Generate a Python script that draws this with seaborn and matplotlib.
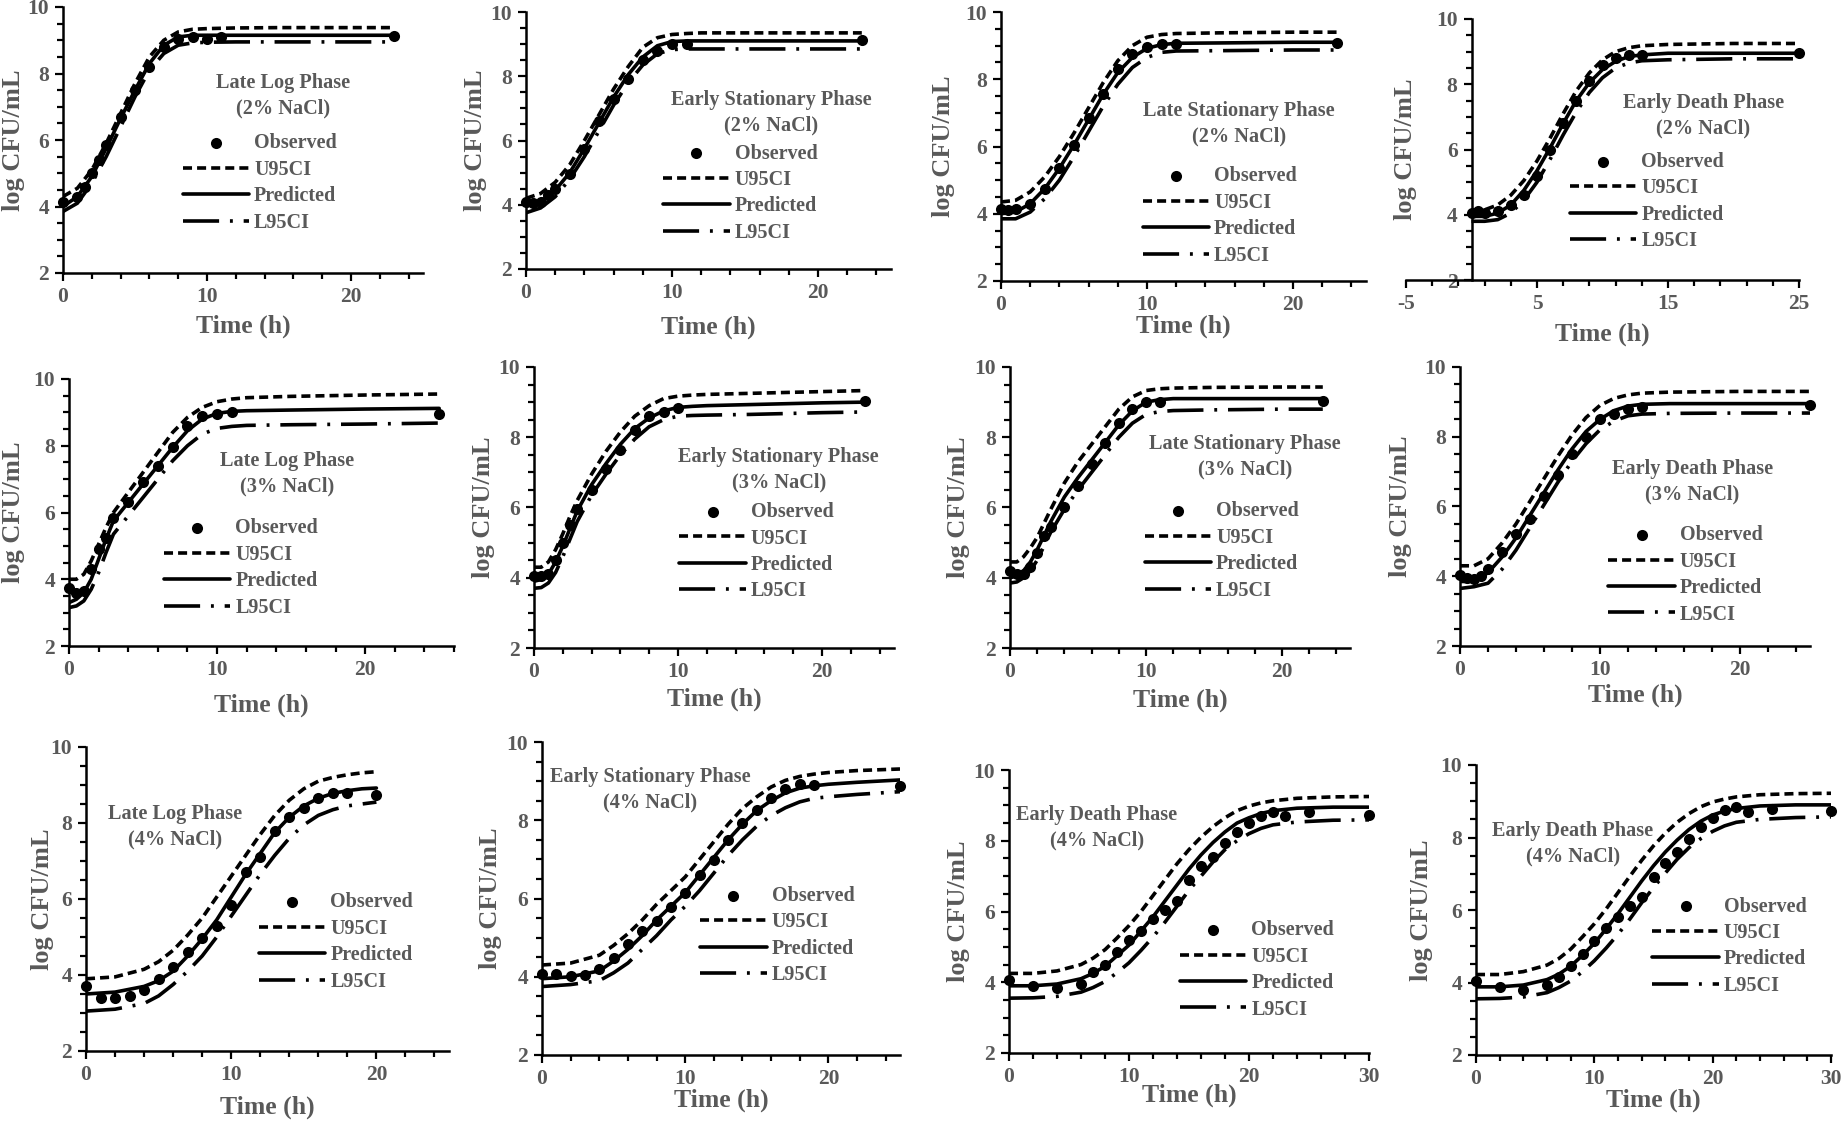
import numpy as np
import pandas as pd
import matplotlib.pyplot as plt
from matplotlib.ticker import MultipleLocator, FixedLocator
import seaborn as sns

sns.set_theme(style="ticks")
plt.rcParams['font.family'] = ['Liberation Serif', 'DejaVu Serif']
plt.rcParams['font.weight'] = 'bold'
plt.rcParams['axes.labelweight'] = 'bold'
plt.rcParams['axes.unicode_minus'] = False

GREY = '#595959'

# ---------------- data ----------------
titles = ['Late Log Phase\n(2% NaCl)', 'Early Stationary Phase\n(2% NaCl)',
          'Late Stationary Phase\n(2% NaCl)', 'Early Death Phase\n(2% NaCl)',
          'Late Log Phase\n(3% NaCl)', 'Early Stationary Phase\n(3% NaCl)',
          'Late Stationary Phase\n(3% NaCl)', 'Early Death Phase\n(3% NaCl)',
          'Late Log Phase\n(4% NaCl)', 'Early Stationary Phase\n(4% NaCl)',
          'Early Death Phase\n(4% NaCl)', 'Early Death Phase\n(4% NaCl)']

# panel 1
p1_obs_t = [0, 1, 1.5, 2, 2.5, 3, 4, 5, 6, 7, 8, 9, 10, 11, 23]
p1_obs = [4.15, 4.3, 4.6, 5.0, 5.4, 5.85, 6.7, 7.5, 8.2, 8.8, 9.05, 9.1, 9.05, 9.1, 9.12]
p1_t = [0, 1, 2, 3, 4, 5, 6, 7, 8, 9, 10, 12, 15, 20, 23]
p1_pred = [4.0, 4.3, 4.9, 5.75, 6.65, 7.5, 8.3, 8.85, 9.1, 9.15, 9.15, 9.15, 9.15, 9.15, 9.15]
p1_u95 = [4.3, 4.55, 5.1, 5.9, 6.8, 7.7, 8.5, 9.0, 9.25, 9.33, 9.35, 9.37, 9.38, 9.38, 9.38]
p1_l95 = [3.85, 4.1, 4.7, 5.5, 6.4, 7.3, 8.1, 8.6, 8.85, 8.92, 8.94, 8.95, 8.95, 8.95, 8.95]

# panel 2
p2_obs_t = [0, 0.5, 1, 1.5, 2, 3, 4, 5, 6, 7, 8, 9, 10, 11, 23]
p2_obs = [4.1, 4.05, 4.1, 4.3, 4.5, 4.95, 5.75, 6.6, 7.3, 7.9, 8.5, 8.8, 9.0, 9.0, 9.12]
p2_t = [0, 1, 2, 3, 4, 5, 6, 7, 8, 9, 10, 11, 12, 15, 20, 23]
p2_pred = [3.95, 4.1, 4.45, 5.0, 5.75, 6.55, 7.35, 8.05, 8.6, 8.95, 9.08, 9.1, 9.1, 9.1, 9.1, 9.1]
p2_u95 = [4.2, 4.35, 4.7, 5.25, 6.0, 6.8, 7.6, 8.3, 8.9, 9.2, 9.3, 9.33, 9.35, 9.35, 9.35, 9.35]
p2_l95 = [3.75, 3.9, 4.25, 4.8, 5.5, 6.3, 7.1, 7.8, 8.35, 8.7, 8.83, 8.85, 8.85, 8.85, 8.85, 8.85]

# panel 3
p3_obs_t = [0, 0.5, 1, 2, 3, 4, 5, 6, 7, 8, 9, 10, 11, 12, 23]
p3_obs = [4.15, 4.1, 4.15, 4.3, 4.75, 5.35, 6.05, 6.85, 7.55, 8.3, 8.75, 8.95, 9.05, 9.05, 9.08]
p3_t = [0, 1, 2, 3, 4, 5, 6, 7, 8, 9, 10, 11, 12, 15, 20, 23]
p3_pred = [4.0, 4.05, 4.3, 4.75, 5.35, 6.05, 6.8, 7.55, 8.2, 8.65, 8.92, 9.03, 9.07, 9.08, 9.1, 9.1]
p3_u95 = [4.35, 4.4, 4.65, 5.1, 5.7, 6.4, 7.15, 7.9, 8.55, 9.0, 9.25, 9.33, 9.36, 9.38, 9.4, 9.4]
p3_l95 = [3.85, 3.85, 4.05, 4.45, 5.0, 5.7, 6.45, 7.2, 7.85, 8.35, 8.65, 8.8, 8.84, 8.85, 8.87, 8.87]

# panel 4
p4_obs_t = [0, 0.5, 1, 2, 3, 4, 5, 6, 7, 8, 9, 10, 11, 12, 13, 25]
p4_obs = [4.05, 4.1, 4.05, 4.1, 4.3, 4.6, 5.2, 6.0, 6.8, 7.5, 8.1, 8.6, 8.8, 8.9, 8.9, 8.95]
p4_t = [0, 1, 2, 3, 4, 5, 6, 7, 8, 9, 10, 11, 12, 13, 15, 20, 25]
p4_pred = [3.95, 3.95, 4.05, 4.3, 4.75, 5.35, 6.05, 6.8, 7.5, 8.05, 8.45, 8.7, 8.85, 8.9, 8.95, 8.95, 8.95]
p4_u95 = [4.15, 4.15, 4.3, 4.6, 5.05, 5.65, 6.35, 7.1, 7.8, 8.35, 8.75, 9.0, 9.12, 9.18, 9.22, 9.25, 9.25]
p4_l95 = [3.8, 3.8, 3.85, 4.05, 4.45, 5.0, 5.7, 6.45, 7.15, 7.75, 8.2, 8.5, 8.65, 8.72, 8.75, 8.78, 8.78]

# panel 5
p5_obs_t = [0, 0.5, 1, 1.5, 2, 2.5, 3, 4, 5, 6, 7, 8, 9, 10, 11, 25]
p5_obs = [3.75, 3.6, 3.65, 4.3, 4.9, 5.25, 5.85, 6.3, 6.9, 7.4, 7.95, 8.6, 8.88, 8.95, 9.0, 8.95]
p5_t = [0, 0.5, 1, 1.5, 2, 2.5, 3, 4, 5, 6, 7, 8, 9, 10, 11, 12, 15, 20, 25]
p5_pred = [3.3, 3.4, 3.6, 4.0, 4.6, 5.2, 5.75, 6.3, 6.85, 7.4, 7.95, 8.45, 8.8, 8.97, 9.03, 9.05, 9.07, 9.1, 9.12]
p5_u95 = [4.0, 4.0, 4.15, 4.55, 5.05, 5.55, 6.0, 6.6, 7.2, 7.8, 8.4, 8.85, 9.15, 9.32, 9.4, 9.44, 9.48, 9.52, 9.55]
p5_l95 = [3.15, 3.2, 3.35, 3.7, 4.2, 4.8, 5.35, 5.9, 6.45, 7.0, 7.55, 8.0, 8.35, 8.52, 8.58, 8.61, 8.63, 8.65, 8.68]

# panel 6
p6_obs_t = [0, 0.5, 1, 1.5, 2, 2.5, 3, 4, 5, 6, 7, 8, 9, 10, 23]
p6_obs = [4.05, 4.05, 4.1, 4.5, 5.0, 5.5, 5.95, 6.5, 7.1, 7.65, 8.2, 8.6, 8.72, 8.83, 9.03]
p6_t = [0, 0.5, 1, 1.5, 2, 2.5, 3, 4, 5, 6, 7, 8, 9, 10, 11, 12, 15, 20, 23]
p6_pred = [3.9, 3.95, 4.1, 4.45, 4.9, 5.4, 5.9, 6.65, 7.25, 7.8, 8.25, 8.55, 8.75, 8.85, 8.88, 8.9, 8.93, 8.98, 9.0]
p6_u95 = [4.3, 4.3, 4.45, 4.8, 5.25, 5.75, 6.2, 6.95, 7.6, 8.15, 8.6, 8.9, 9.1, 9.17, 9.2, 9.22, 9.25, 9.3, 9.33]
p6_l95 = [3.7, 3.72, 3.85, 4.15, 4.6, 5.1, 5.6, 6.35, 6.95, 7.5, 7.95, 8.3, 8.5, 8.6, 8.62, 8.63, 8.65, 8.7, 8.72]

# panel 7
p7_obs_t = [0, 0.5, 1, 1.5, 2, 2.5, 3, 4, 5, 6, 7, 8, 9, 10, 11, 23]
p7_obs = [4.2, 4.1, 4.1, 4.3, 4.7, 5.2, 5.45, 6.0, 6.6, 7.25, 7.85, 8.4, 8.8, 9.0, 9.0, 9.02]
p7_t = [0, 0.5, 1, 1.5, 2, 2.5, 3, 4, 5, 6, 7, 8, 9, 10, 11, 12, 15, 20, 23]
p7_pred = [4.0, 4.05, 4.2, 4.45, 4.8, 5.2, 5.6, 6.3, 6.85, 7.35, 7.85, 8.35, 8.75, 9.0, 9.07, 9.1, 9.1, 9.1, 9.1]
p7_u95 = [4.45, 4.45, 4.6, 4.85, 5.15, 5.55, 5.95, 6.7, 7.3, 7.8, 8.3, 8.8, 9.15, 9.33, 9.38, 9.4, 9.42, 9.43, 9.43]
p7_l95 = [3.85, 3.88, 4.0, 4.2, 4.5, 4.9, 5.3, 5.95, 6.5, 7.0, 7.5, 8.0, 8.4, 8.65, 8.73, 8.76, 8.78, 8.8, 8.8]

# panel 8
p8_obs_t = [0, 0.5, 1, 1.5, 2, 3, 4, 5, 6, 7, 8, 9, 10, 11, 12, 13, 25]
p8_obs = [4.05, 3.95, 3.93, 4.0, 4.2, 4.7, 5.2, 5.65, 6.3, 6.9, 7.5, 8.0, 8.5, 8.65, 8.8, 8.85, 8.9]
p8_t = [0, 1, 2, 3, 4, 5, 6, 7, 8, 9, 10, 11, 12, 13, 15, 20, 25]
p8_pred = [3.85, 3.85, 4.1, 4.55, 5.1, 5.75, 6.4, 7.05, 7.65, 8.15, 8.5, 8.75, 8.88, 8.93, 8.95, 8.95, 8.95]
p8_u95 = [4.3, 4.3, 4.5, 4.95, 5.5, 6.15, 6.8, 7.45, 8.05, 8.55, 8.9, 9.1, 9.2, 9.25, 9.28, 9.3, 9.3]
p8_l95 = [3.65, 3.7, 3.8, 4.2, 4.75, 5.4, 6.05, 6.7, 7.3, 7.8, 8.2, 8.45, 8.6, 8.65, 8.67, 8.68, 8.68]

# panel 9
p9_obs_t = [0, 1, 2, 3, 4, 5, 6, 7, 8, 9, 10, 11, 12, 13, 14, 15, 16, 17, 18, 20]
p9_obs = [3.7, 3.4, 3.4, 3.45, 3.6, 3.9, 4.2, 4.6, 4.97, 5.3, 5.85, 6.7, 7.1, 7.8, 8.15, 8.4, 8.65, 8.78, 8.8, 8.75]
p9_t = [0, 2, 4, 5, 6, 7, 8, 9, 10, 11, 12, 13, 14, 15, 16, 17, 18, 19, 20]
p9_pred = [3.5, 3.55, 3.7, 3.85, 4.1, 4.5, 4.95, 5.45, 6.05, 6.65, 7.2, 7.75, 8.15, 8.45, 8.65, 8.78, 8.85, 8.9, 8.92]
p9_u95 = [3.9, 3.95, 4.15, 4.35, 4.65, 5.05, 5.5, 6.05, 6.6, 7.15, 7.7, 8.2, 8.6, 8.9, 9.1, 9.2, 9.27, 9.32, 9.35]
p9_l95 = [3.05, 3.1, 3.25, 3.45, 3.75, 4.1, 4.5, 5.0, 5.55, 6.1, 6.65, 7.15, 7.6, 7.95, 8.2, 8.35, 8.45, 8.5, 8.55]

# panel 10
p10_obs_t = [0, 1, 2, 3, 4, 5, 6, 7, 8, 9, 10, 11, 12, 13, 14, 15, 16, 17, 18, 19, 25]
p10_obs = [4.07, 4.07, 4.02, 4.05, 4.2, 4.48, 4.84, 5.16, 5.43, 5.78, 6.15, 6.6, 6.98, 7.5, 7.93, 8.27, 8.57, 8.79, 8.92, 8.9, 8.87]
p10_t = [0, 2, 4, 5, 6, 7, 8, 9, 10, 11, 12, 13, 14, 15, 16, 17, 18, 19, 20, 22, 25]
p10_pred = [3.95, 4.0, 4.15, 4.4, 4.7, 5.05, 5.45, 5.8, 6.15, 6.6, 7.05, 7.5, 7.9, 8.25, 8.5, 8.7, 8.82, 8.88, 8.92, 8.97, 9.03]
p10_u95 = [4.3, 4.35, 4.55, 4.8, 5.1, 5.45, 5.85, 6.2, 6.55, 7.0, 7.45, 7.9, 8.3, 8.6, 8.85, 9.02, 9.12, 9.18, 9.22, 9.27, 9.31]
p10_l95 = [3.75, 3.8, 3.9, 4.1, 4.35, 4.7, 5.05, 5.45, 5.8, 6.2, 6.65, 7.1, 7.5, 7.85, 8.12, 8.32, 8.47, 8.56, 8.6, 8.66, 8.73]

# panel 11
p11_obs_t = [0, 2, 4, 6, 7, 8, 9, 10, 11, 12, 13, 14, 15, 16, 17, 18, 19, 20, 21, 22, 23, 25, 30]
p11_obs = [4.05, 3.88, 3.83, 3.95, 4.3, 4.5, 4.85, 5.2, 5.45, 5.8, 6.05, 6.3, 6.9, 7.3, 7.55, 7.95, 8.25, 8.5, 8.7, 8.8, 8.7, 8.8, 8.72]
p11_t = [0, 2, 4, 6, 7, 8, 9, 10, 11, 12, 13, 14, 15, 16, 17, 18, 19, 20, 21, 22, 24, 27, 30]
p11_pred = [3.9, 3.9, 3.95, 4.1, 4.25, 4.45, 4.75, 5.05, 5.45, 5.85, 6.3, 6.75, 7.2, 7.6, 7.95, 8.25, 8.5, 8.65, 8.77, 8.85, 8.92, 8.95, 8.95]
p11_u95 = [4.25, 4.25, 4.32, 4.5, 4.68, 4.92, 5.25, 5.6, 6.0, 6.45, 6.9, 7.35, 7.75, 8.1, 8.4, 8.65, 8.85, 8.98, 9.07, 9.13, 9.2, 9.24, 9.25]
p11_l95 = [3.55, 3.56, 3.6, 3.72, 3.85, 4.02, 4.27, 4.55, 4.9, 5.28, 5.7, 6.15, 6.6, 7.0, 7.4, 7.75, 8.0, 8.2, 8.35, 8.45, 8.53, 8.58, 8.59]

# panel 12
p12_obs_t = [0, 2, 4, 6, 7, 8, 9, 10, 11, 12, 13, 14, 15, 16, 17, 18, 19, 20, 21, 22, 23, 25, 30]
p12_obs = [4.05, 3.87, 3.78, 3.92, 4.15, 4.45, 4.8, 5.15, 5.5, 5.8, 6.1, 6.35, 6.9, 7.3, 7.6, 7.95, 8.3, 8.55, 8.75, 8.85, 8.7, 8.8, 8.72]
p12_t = [0, 2, 4, 6, 7, 8, 9, 10, 11, 12, 13, 14, 15, 16, 17, 18, 19, 20, 21, 22, 24, 27, 30]
p12_pred = [3.88, 3.88, 3.93, 4.08, 4.23, 4.45, 4.75, 5.08, 5.48, 5.9, 6.35, 6.8, 7.22, 7.6, 7.93, 8.22, 8.45, 8.62, 8.73, 8.8, 8.87, 8.9, 8.9]
p12_u95 = [4.22, 4.22, 4.3, 4.48, 4.66, 4.92, 5.26, 5.62, 6.03, 6.48, 6.93, 7.37, 7.77, 8.12, 8.42, 8.66, 8.85, 8.98, 9.06, 9.12, 9.18, 9.21, 9.22]
p12_l95 = [3.55, 3.56, 3.6, 3.72, 3.86, 4.04, 4.3, 4.6, 4.95, 5.33, 5.75, 6.2, 6.62, 7.02, 7.4, 7.72, 7.97, 8.17, 8.32, 8.42, 8.5, 8.55, 8.57]

panels = [
    (p1_obs_t, p1_obs, p1_t, p1_pred, p1_u95, p1_l95),
    (p2_obs_t, p2_obs, p2_t, p2_pred, p2_u95, p2_l95),
    (p3_obs_t, p3_obs, p3_t, p3_pred, p3_u95, p3_l95),
    (p4_obs_t, p4_obs, p4_t, p4_pred, p4_u95, p4_l95),
    (p5_obs_t, p5_obs, p5_t, p5_pred, p5_u95, p5_l95),
    (p6_obs_t, p6_obs, p6_t, p6_pred, p6_u95, p6_l95),
    (p7_obs_t, p7_obs, p7_t, p7_pred, p7_u95, p7_l95),
    (p8_obs_t, p8_obs, p8_t, p8_pred, p8_u95, p8_l95),
    (p9_obs_t, p9_obs, p9_t, p9_pred, p9_u95, p9_l95),
    (p10_obs_t, p10_obs, p10_t, p10_pred, p10_u95, p10_l95),
    (p11_obs_t, p11_obs, p11_t, p11_pred, p11_u95, p11_l95),
    (p12_obs_t, p12_obs, p12_t, p12_pred, p12_u95, p12_l95),
]

# ---------------- layout (pixels of the 1842x1124 canvas) ----------------
W, H = 1842, 1124
# left, right, top(y=10), bottom(y=2)
rects_px = [(63, 423, 7, 273), (526, 891, 12, 269), (1001, 1366, 12, 281), (1406, 1799, 19, 280),
            (69, 454, 379, 646), (534, 894, 367, 648), (1010, 1350, 367, 648), (1460, 1810, 367, 646),
            (86, 449, 747, 1051), (542, 900, 742, 1055), (1009, 1369, 770, 1053), (1476, 1831, 765, 1055)]
xlims = [(0, 25), (0, 25), (0, 25), (-5, 25), (0, 26), (0, 25), (0, 25), (0, 25),
         (0, 25), (0, 25), (0, 30), (0, 30)]
ann_xy = [(15.3, 7.32), (16.8, 6.87), (16.3, 6.68), (17.7, 7.03), (14.7, 7.15), (17.0, 7.07),
          (17.3, 7.45), (16.6, 6.72), (6.1, 7.91), (7.55, 8.77), (7.3, 8.36), (8.2, 7.83)]
leg_xy = [(8.3, 4.71), (9.4, 4.36), (9.7, 3.93), (7.5, 4.4), (6.4, 4.34), (10.1, 4.74),
          (9.9, 4.76), (10.6, 4.04), (11.9, 4.87), (11.05, 5.05), (14.25, 4.35), (14.9, 5.0)]
xlab_off = [56, 61, 48, 57, 62, 54, 55, 52, 59, 48, 45, 48]
ylab_x = [10, 472, 940, 1402, 10, 480, 955, 1397, 39, 487, 955, 1418]

LW = 2.6
styles = {'U95CI': (0, (2.5, 1.4)), 'Predicted': '-', 'L95CI': (0, (10, 3, 0.8, 3))}
order = ['Observed', 'U95CI', 'Predicted', 'L95CI']

fig = plt.figure(figsize=(W / 100, H / 100), dpi=100)

for i in range(12):
    L, R, T, B = rects_px[i]
    ax = fig.add_axes([L / W, 1 - B / H, (R - L) / W, (B - T) / H])
    obs_t, obs_v, t, pred, u95, l95 = panels[i]

    sns.lineplot(x=t, y=u95, ax=ax, color='black', lw=LW, linestyle=styles['U95CI'],
                 label='U95CI', estimator=None, sort=False)
    sns.lineplot(x=t, y=pred, ax=ax, color='black', lw=LW, linestyle=styles['Predicted'],
                 label='Predicted', estimator=None, sort=False)
    sns.lineplot(x=t, y=l95, ax=ax, color='black', lw=LW, linestyle=styles['L95CI'],
                 label='L95CI', estimator=None, sort=False)
    sns.scatterplot(x=obs_t, y=obs_v, ax=ax, color='black', s=64, linewidth=0,
                    label='Observed', zorder=5, clip_on=False)

    ax.set_xlim(*xlims[i])
    ax.set_ylim(2, 10)
    if i == 3:
        ax.xaxis.set_major_locator(FixedLocator([-5, 5, 15, 25]))
        ax.xaxis.set_minor_locator(FixedLocator(np.arange(-5, 26, 2)))
        ax.spines['left'].set_position(('data', 0))
    else:
        ax.xaxis.set_major_locator(MultipleLocator(10))
        ax.xaxis.set_minor_locator(MultipleLocator(2))
    ax.yaxis.set_major_locator(MultipleLocator(2))
    ax.yaxis.set_minor_locator(MultipleLocator(0.5))

    sns.despine(ax=ax)
    for s in ['left', 'bottom']:
        ax.spines[s].set_linewidth(1.8)
        ax.spines[s].set_color('black')
    ax.tick_params(which='major', direction='out', length=6, width=1.6, color='black',
                   labelsize=15.5, labelcolor=GREY, pad=4)
    ax.tick_params(which='minor', direction='out', length=4, width=1.6, color='black')

    w_px, h_px = R - L, B - T
    ax.set_xlabel('Time (h)', fontsize=18.5, color=GREY)
    ax.xaxis.set_label_coords(0.5, -(xlab_off[i] - 14) / h_px)
    ax.set_ylabel('log CFU/mL', fontsize=19, color=GREY)
    ax.yaxis.set_label_coords((ylab_x[i] + 15 - L) / w_px, 0.5)

    ax.text(ann_xy[i][0], ann_xy[i][1], titles[i], ha='center', va='center',
            fontsize=14.6, color=GREY, fontweight='bold', linespacing=1.35)

    hs, ls = ax.get_legend_handles_labels()
    hd = dict(zip(ls, hs))
    ax.legend([hd[k] for k in order], order, loc='center left', bbox_to_anchor=leg_xy[i],
              bbox_transform=ax.transData, frameon=False, fontsize=14.5, handlelength=3.3,
              handletextpad=0.25, labelspacing=0.32, borderpad=0, borderaxespad=0,
              labelcolor=GREY, scatterpoints=1)

fig.savefig('out.png', dpi=100)
